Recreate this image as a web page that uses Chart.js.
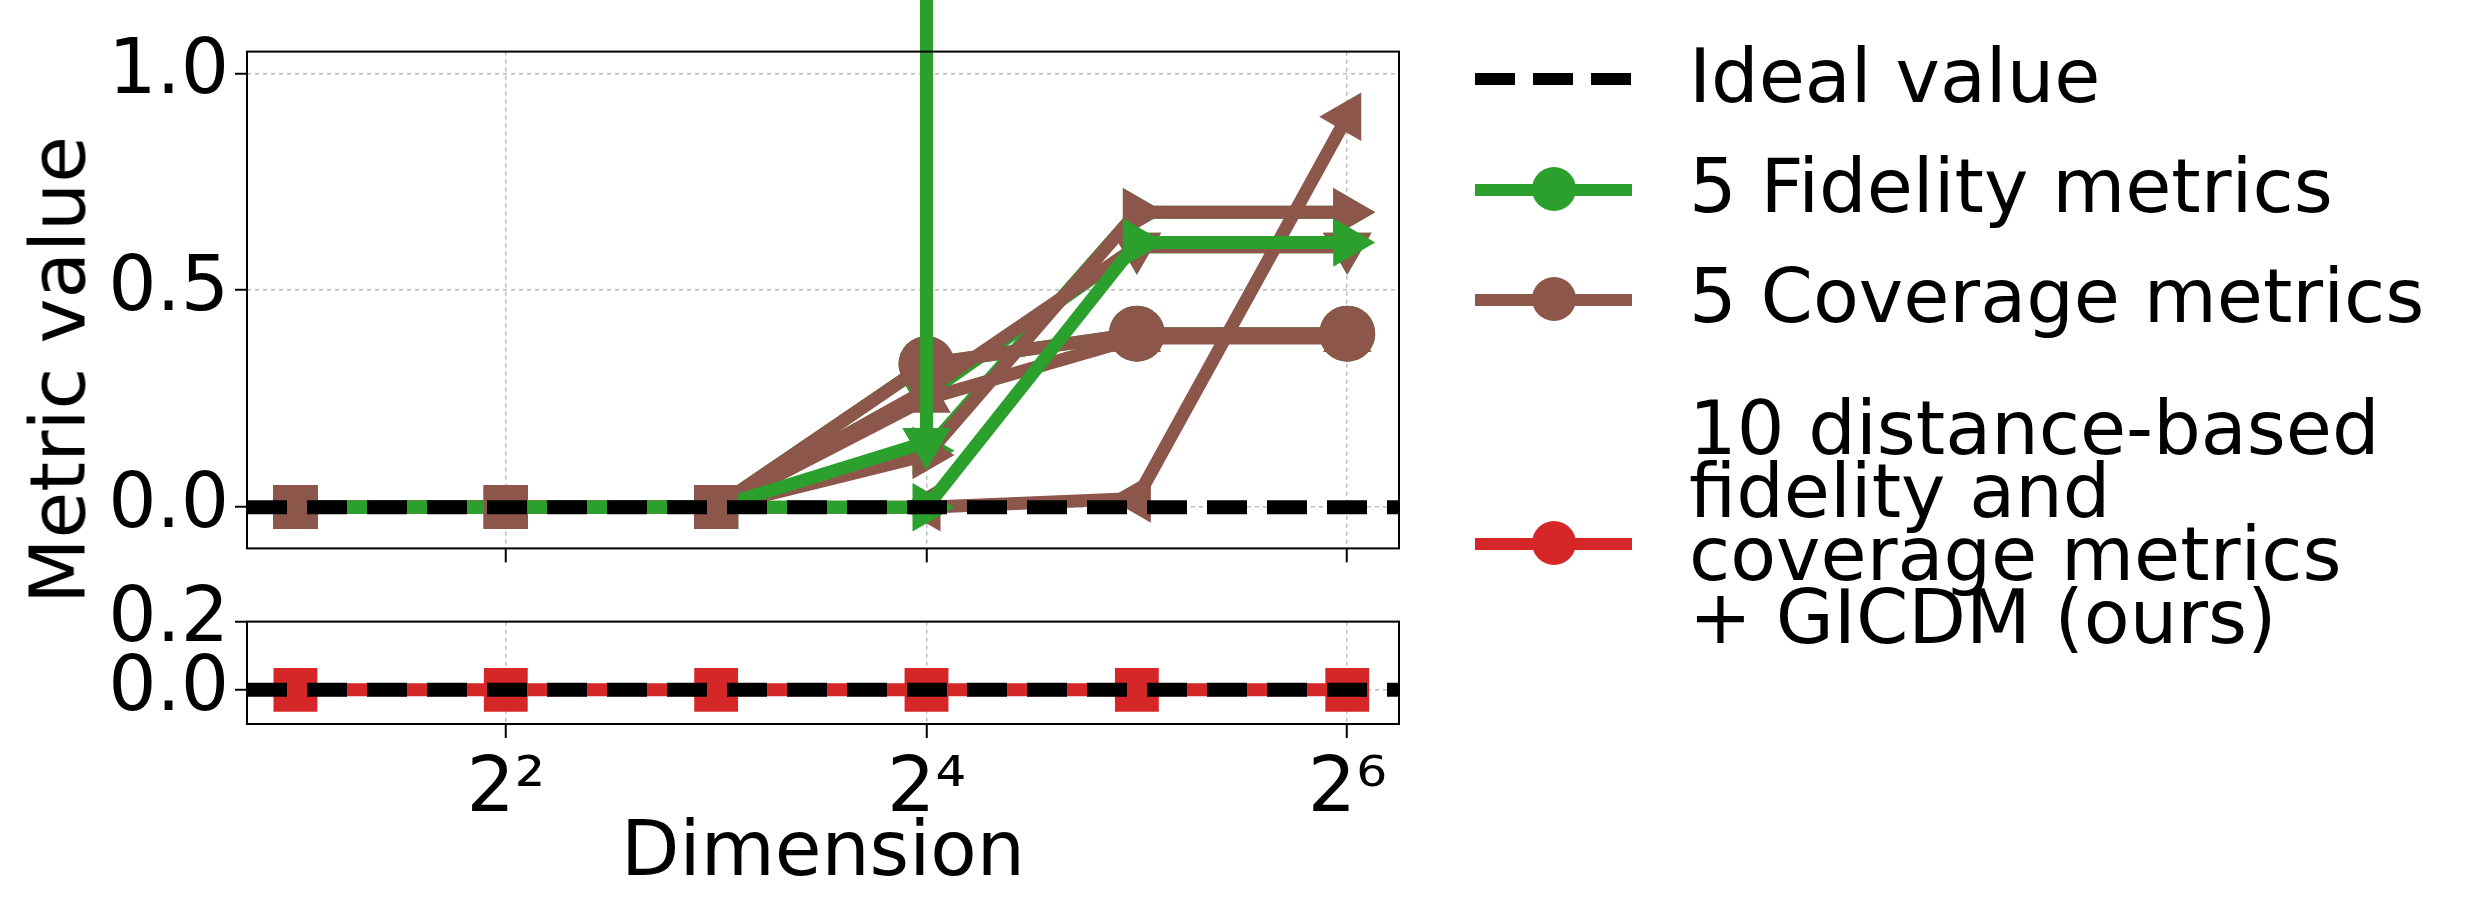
<!DOCTYPE html>
<html><head><meta charset="utf-8">
<script src="https://cdn.jsdelivr.net/npm/chart.js@4"></script>
<style>
body{margin:0;width:2468px;height:907px;background:#fff;font-family:"DejaVu Sans";overflow:hidden}
.c{position:absolute;left:0}
#ylab{position:absolute;left:58px;top:370px;transform:translate(-50%,-50%) rotate(-90deg);font-size:76px;white-space:nowrap}
.sw{position:absolute;left:1475px;width:157px;height:12px}
.dot{position:absolute;left:1532px;width:44px;height:44px;border-radius:50%}
.tx{position:absolute;left:1689px;font-size:75px;line-height:63px;white-space:nowrap}
</style></head><body>
<div class="c" style="top:0;width:1430px;height:600px"><canvas id="top"></canvas></div>
<div class="c" style="top:570px;width:1430px;height:337px"><canvas id="bot"></canvas></div>
<div id="ylab">Metric value</div>
<div style="position:absolute;left:1475px;top:73px;width:157px;height:12px;background:repeating-linear-gradient(90deg,#000 0 40px,transparent 40px 58px)"></div>
<div class="tx" style="top:45px">Ideal value</div>
<div class="sw" style="top:184px;background:#2ca02c"></div><div class="dot" style="top:167px;background:#2ca02c"></div>
<div class="tx" style="top:155px">5 Fidelity metrics</div>
<div class="sw" style="top:294px;background:#8c564b"></div><div class="dot" style="top:277px;background:#8c564b"></div>
<div class="tx" style="top:265px">5 Coverage metrics</div>
<div class="sw" style="top:538px;background:#d62728"></div><div class="dot" style="top:521px;background:#d62728"></div>
<div class="tx" style="top:397px">10 distance-based<br>fidelity and<br>coverage metrics<br>+ GICDM (ours)</div>
<script>
const dims=[2,4,8,16,32,64];
const fid1=[0,0,0,0.15]; const fid1Spike=3;
const fid2=[0,0,0,0.0,0.61,0.61];
const fid3=[0,0,0,0.33,0.40,0.40];
const fid4=[0,0,0,0.13,0.68,0.68];
const fid5=[0,0,0,0.26,0.60,0.60];
const cov1=[0,0,0,0.33,0.40,0.40];
const cov2=[0,0,0,0.25,0.39,0.39];
const cov3=[0,0,0,0.12,0.68,0.68];
const cov4=[0,0,0,0.27,0.60,0.60];
const cov5=[0,0,0,0.0,0.02,0.90];
const ours=[0,0,0,0,0,0];
const xTicks=[4,16,64];
const xMin=1.705,xMax=75.9;
const G='#2ca02c',B='#8c564b',R='#d62728';
Chart.defaults.font.family='DejaVu Sans';Chart.defaults.color='#000';
const pts=a=>a.map((v,i)=>({x:dims[i],y:v}));
function ser(a,c,style,rot,sq){
  return {data:pts(a),borderColor:c,backgroundColor:c,borderWidth:13,
   pointStyle:a.map((_,i)=>sq&&i<3?'rect':style),
   pointRotation:a.map((_,i)=>sq&&i<3?0:rot),
   pointRadius:a.map((_,i)=>(sq&&i<3)||style==='rect'?31:28),
   pointBorderWidth:0,tension:0,clip:false};
}
const idealDs=()=>({data:[{x:xMin,y:0},{x:xMax,y:0}],borderColor:'#000',borderWidth:14,borderDash:[40,20],pointRadius:0,clip:false});
const frame={id:'frame',afterDraw(c){const a=c.chartArea,x=c.ctx;x.save();x.strokeStyle='#000';x.lineWidth=2;x.strokeRect(a.left,a.top,a.right-a.left,a.bottom-a.top);x.restore();}};
function xScale(labels,h){return {type:'logarithmic',min:xMin,max:xMax,
  afterBuildTicks(s){s.ticks=xTicks.map(v=>({value:v}));},
  afterFit(s){s.height=h;},
  grid:{color:'#bbb',lineWidth:1.5,tickLength:14,tickColor:'#000',tickWidth:2},border:{display:false,dash:[4,4]},
  ticks:{display:true,autoSkip:false,maxRotation:0,padding:8,font:{size:labels?76:1},color:labels?'#000':'rgba(0,0,0,0)',
   callback:v=>labels?({4:'2²',16:'2⁴',64:'2⁶'})[v]:''},
  title:{display:labels,text:'Dimension',font:{size:76},padding:{top:0,bottom:6}}};}
function yScale(min,max,step){return {min,max,afterFit(s){s.width=247;},
  afterBuildTicks(s){const t=[];for(let v=0;v<=max+1e-9;v+=step)t.push({value:+v.toFixed(2)});s.ticks=t;},
  grid:{color:'#bbb',lineWidth:1.5,tickLength:12,tickColor:'#000',tickWidth:2},border:{display:false,dash:[4,4]},
  ticks:{font:{size:76},padding:6,callback:v=>v.toFixed(1)}};}
new Chart(document.getElementById('top'),{type:'line',
 data:{datasets:[
  idealDs(),
  Object.assign(ser(cov5,B,'rect',0,false),{pointRadius:[31,31,31,0,0,0],borderWidth:0,showLine:false}),
  Object.assign(ser(fid2,G,'triangle',90,false),{pointRadius:[0,0,0,28,28,28]}),
  Object.assign(ser(fid1,G,'triangle',180,false),{data:pts(fid1).concat([{x:16,y:fid1Spike}]),pointRadius:[0,0,0,28,0]}),
  ser(cov1,B,'circle',0,true),ser(cov2,B,'triangle',0,true),ser(cov3,B,'triangle',90,true),ser(cov4,B,'triangle',180,true),ser(cov5,B,'triangle',270,true),
  ser(fid3,G,'circle',0,true),ser(fid4,G,'triangle',90,true),ser(fid5,G,'triangle',180,true)
 ]},
 options:{responsive:true,maintainAspectRatio:false,animation:false,layout:{padding:{top:24,right:21,left:0,bottom:0}},
  plugins:{legend:{display:false},tooltip:{enabled:false}},
  scales:{x:xScale(false,44),y:yScale(-0.095,1.05,0.5)}},
 plugins:[frame]});
new Chart(document.getElementById('bot'),{type:'line',
 data:{datasets:[idealDs(),ser(ours,R,'rect',0,false)]},
 options:{responsive:true,maintainAspectRatio:false,animation:false,layout:{padding:{top:20,right:21,left:0,bottom:0}},
  plugins:{legend:{display:false},tooltip:{enabled:false}},
  scales:{x:xScale(true,183),y:yScale(-0.1,0.2,0.2)}},
 plugins:[frame]});
</script></body></html>
